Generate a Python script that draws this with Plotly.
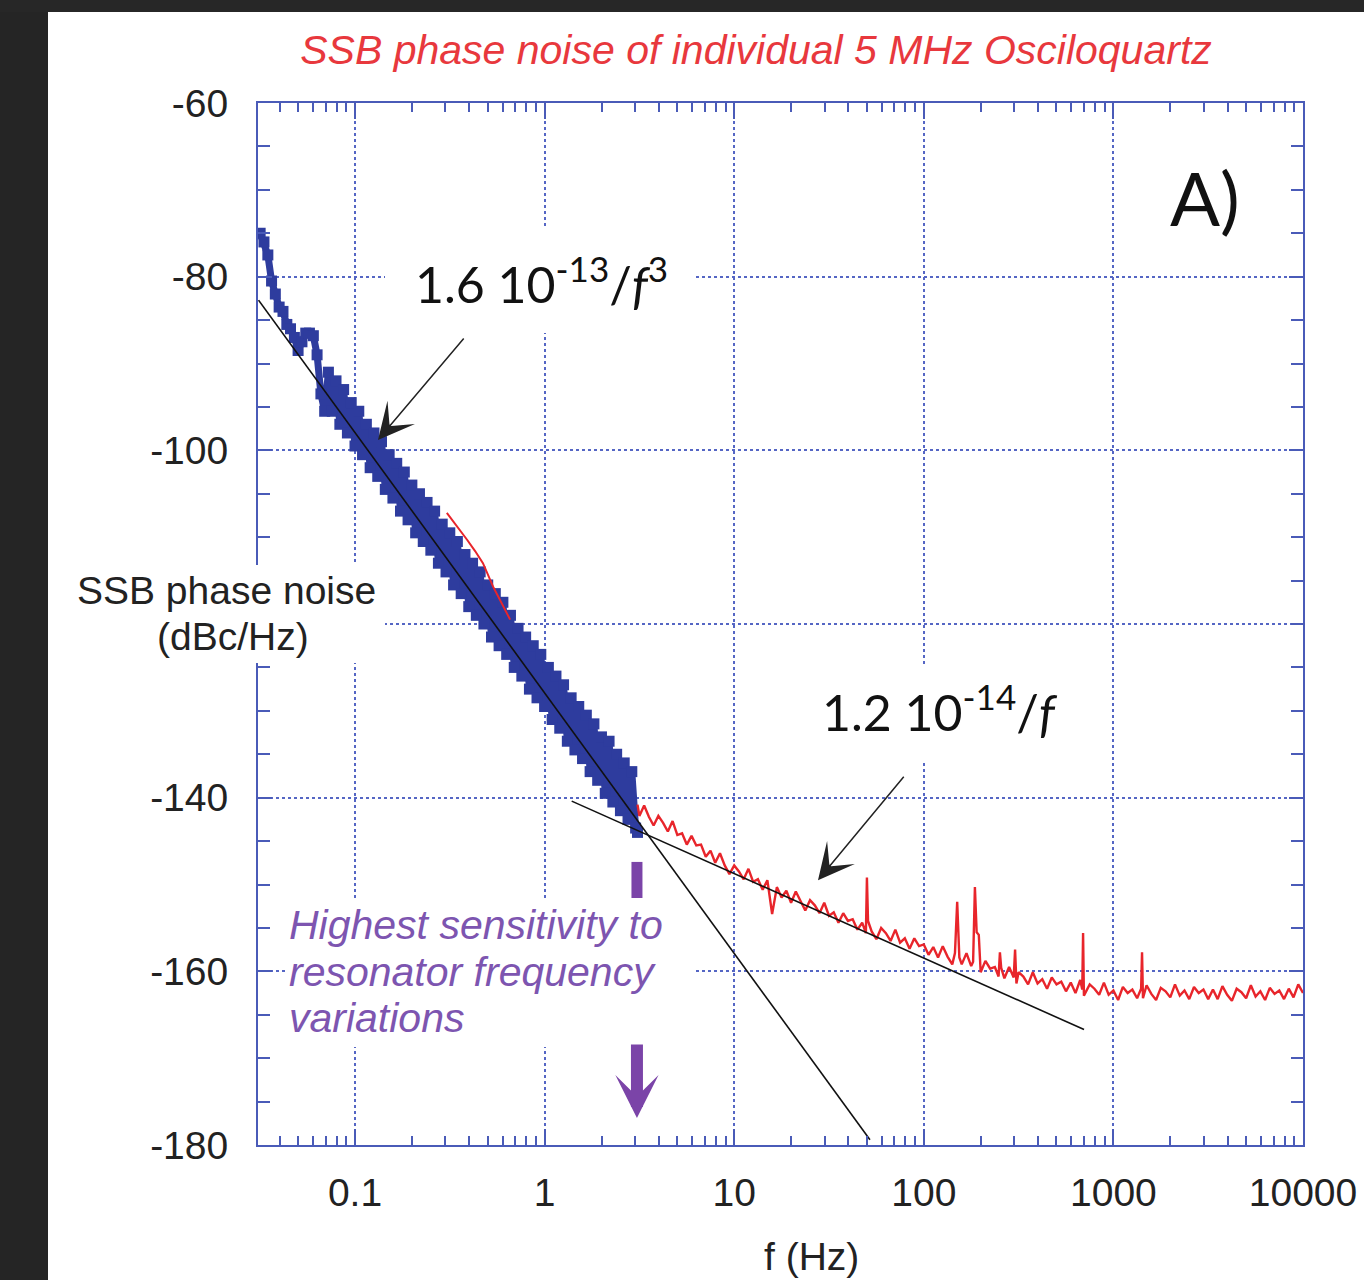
import plotly.graph_objects as go

# ---------------- data ----------------
blue_f = [0.0316, 0.0331, 0.0347, 0.0363, 0.0380, 0.0398, 0.0417, 0.0437, 0.0457, 0.0479,
          0.0501, 0.0525, 0.0550, 0.0575, 0.0603, 0.0631, 0.0661, 0.0692, 0.0724, 0.0759,
          0.0794, 0.0832, 0.0871, 0.0912, 0.0955, 0.1000, 0.1047, 0.1096, 0.1148, 0.1202,
          0.1259, 0.1318, 0.1380, 0.1445, 0.1514, 0.1585, 0.1660, 0.1738, 0.1820, 0.1905,
          0.1995, 0.2089, 0.2188, 0.2291, 0.2399, 0.2512, 0.2630, 0.2754, 0.2884, 0.3020,
          0.3162, 0.3311, 0.3467, 0.3631, 0.3802, 0.3981, 0.4169, 0.4365, 0.4571, 0.4786,
          0.5012, 0.5248, 0.5495, 0.5754, 0.6026, 0.6310, 0.6607, 0.6918, 0.7244, 0.7586,
          0.7943, 0.8318, 0.8710, 0.9120, 0.9550, 1.000, 1.047, 1.096, 1.148, 1.202,
          1.259, 1.318, 1.380, 1.445, 1.514, 1.585, 1.660, 1.738, 1.820, 1.905,
          1.995, 2.089, 2.188, 2.291, 2.399, 2.512, 2.630, 2.754, 2.884, 3.020, 3.090]
blue_db = [-75.0, -76.0, -77.5, -80.5, -82.0, -83.5, -84.0, -85.5, -86.0, -87.0,
           -88.5, -87.5, -86.5, -86.5, -86.8, -89.0, -93.5, -95.5, -91.0, -95.5,
           -92.0, -97.0, -93.0, -98.0, -94.5, -99.5, -95.5, -100.5, -97.0, -102.0,
           -98.0, -103.0, -99.0, -104.5, -100.5, -105.5, -101.5, -107.0, -102.5, -108.0,
           -104.0, -109.5, -105.0, -110.5, -106.0, -111.5, -107.0, -113.0, -108.5, -114.0,
           -109.5, -115.5, -110.5, -116.5, -112.0, -118.0, -113.0, -119.0, -114.0, -120.0,
           -115.5, -121.5, -116.5, -122.5, -117.5, -123.5, -119.0, -125.0, -120.5, -126.0,
           -121.5, -127.5, -122.5, -128.5, -123.5, -129.5, -125.0, -131.0, -126.0, -132.0,
           -127.0, -133.5, -128.5, -134.5, -129.5, -135.5, -130.5, -137.0, -131.5, -138.0,
           -133.0, -139.5, -133.5, -140.5, -135.0, -141.5, -136.0, -142.5, -137.0, -143.5, -144.0]

red_low_f = [0.305, 0.35, 0.39, 0.43, 0.473, 0.535, 0.60, 0.658]
red_low_db = [-107.2, -108.9, -110.3, -111.6, -113.0, -115.7, -117.8, -119.5]

red_f = [3.09, 3.162, 3.350, 3.548, 3.758, 3.981, 4.217, 4.467, 4.732, 5.012,
         5.309, 5.623, 5.957, 6.310, 6.683, 7.079, 7.499, 7.943, 8.414, 8.913, 9.441,
         10.0, 10.59, 11.22, 11.89, 12.59, 13.34, 14.13, 14.96, 15.85, 16.79, 17.78, 18.84, 19.95,
         21.13, 22.39, 23.71, 25.12, 26.61, 28.18, 29.85, 31.62, 33.50, 35.48, 37.58, 39.81,
         42.17, 44.67, 47.32, 49.5, 50.12, 50.8, 53.09, 56.23, 59.57, 63.10, 66.83, 70.79, 74.99,
         79.43, 84.14, 89.13, 94.41,
         100.0, 105.9, 112.2, 118.9, 125.9, 133.4, 141.3, 146.0, 150.0, 154.0, 158.5, 167.9, 177.8,
         182.0, 186.0, 190.0, 195.0, 199.5, 211.3, 223.9, 237.1, 248.0, 252.0, 256.0, 266.1, 281.8,
         298.0, 303.0, 308.0, 316.2, 335.0, 354.8, 375.8, 398.1, 421.7, 446.7, 473.2, 501.2, 530.9,
         562.3, 595.7, 631.0, 668.3, 685.0, 692.0, 699.0, 749.9, 794.3, 841.4, 891.3, 944.1,
         1000, 1059, 1122, 1189, 1259, 1334, 1400, 1416, 1432, 1496, 1585, 1679, 1778, 1884, 1995,
         2113, 2239, 2371, 2512, 2661, 2818, 2985, 3162, 3350, 3548, 3758, 3981, 4217, 4467, 4732,
         5012, 5309, 5623, 5957, 6310, 6683, 7079, 7499, 7943, 8414, 8913, 9441, 10000]
red_db = [-140.8, -142.1, -140.9, -142.2, -143.2, -142.1, -142.9, -143.9, -142.7, -144.3,
          -144.1, -145.4, -144.4, -145.5, -145.4, -146.8, -146.1, -147.5, -146.4, -147.8, -148.8,
          -147.8, -148.5, -149.4, -148.2, -149.7, -149.4, -150.6, -149.5, -153.4, -150.3, -151.5, -150.7, -152.1,
          -150.8, -152.0, -153.0, -151.8, -152.4, -153.3, -152.1, -153.6, -153.2, -154.4, -153.3, -154.2,
          -154.0, -155.2, -154.4, -155.6, -149.2, -154.2, -155.4, -156.3, -155.0, -155.6, -156.5, -155.2, -156.7,
          -156.2, -157.4, -156.2, -157.1,
          -156.9, -158.1, -157.2, -158.4, -157.1, -158.3, -159.2, -157.9, -152.0, -158.4, -159.2, -157.9, -159.4,
          -158.9, -150.3, -155.5, -155.8, -160.1, -158.8, -159.7, -159.5, -160.6, -157.8, -159.6, -160.8, -159.5,
          -160.7, -157.5, -161.4, -160.1, -160.6, -161.5, -160.1, -161.4, -160.9, -162.0, -160.7, -161.5, -161.2,
          -162.3, -161.3, -162.5, -161.0, -162.1, -155.6, -162.8, -161.5, -162.0, -162.7, -161.3, -162.7,
          -162.2, -163.3, -161.8, -162.5, -162.1, -163.1, -162.0, -157.8, -163.1, -161.6, -162.6, -163.3, -161.9, -162.3, -163.0,
          -161.5, -162.8, -162.2, -163.2, -161.8, -162.5, -162.1, -163.2, -162.1, -163.2, -161.7, -162.7, -163.4, -162.0, -162.4,
          -163.1, -161.6, -162.9, -162.3, -163.3, -161.9, -162.6, -162.2, -163.2, -162.0, -163.0, -161.5, -162.5]

fit3_f = [0.031, 52.0]       # 1.6e-13 / f^3 asymptote
fit3_db = [-82.7, -179.4]
fit1_f = [1.39, 700.0]       # 1.2e-14 / f asymptote
fit1_db = [-140.4, -166.7]

mark_f = [3.07, 3.07]        # purple "highest sensitivity" marker
mark_db = [-147.4, -151.9]

x_ticks = [0.1, 1, 10, 100, 1000, 10000]
x_ticklabels = ["0.1", "1", "10", "100", "1000", "10000"]
y_ticks = [-180, -160, -140, -120, -100, -80, -60]
y_ticklabels = ["-180", "-160", "-140", "", "-100", "-80", "-60"]

assert len(blue_f) == len(blue_db)
assert len(red_f) == len(red_db)

# ---------------- styling ----------------
AXC = "#4a5bb8"
GRIDC = "#5566c4"
BLUE = "#2e3c9e"
RED = "#e8252b"
PURPLE = "#7b44a8"
PURPLE_TXT = "#7d55b0"
TXT = "#222222"
SANS = "Liberation Sans, Arial, sans-serif"
CAL = "Lato, Open Sans, sans-serif"

x_minor = [m * 10 ** e for e in range(-2, 4) for m in range(2, 10)]
y_minor = list(range(-180, -55, 5))

fig = go.Figure()
fig.add_trace(go.Scatter(x=blue_f, y=blue_db, mode="lines+markers",
                         line=dict(color=BLUE, width=7),
                         marker=dict(symbol="square", size=11, color=BLUE),
                         showlegend=False))
fig.add_trace(go.Scatter(x=red_low_f, y=red_low_db, mode="lines",
                         line=dict(color=RED, width=2), showlegend=False))
fig.add_trace(go.Scatter(x=red_f, y=red_db, mode="lines",
                         line=dict(color=RED, width=2.4), showlegend=False))
fig.add_trace(go.Scatter(x=fit3_f, y=fit3_db, mode="lines",
                         line=dict(color="#111111", width=1.6), showlegend=False))
fig.add_trace(go.Scatter(x=fit1_f, y=fit1_db, mode="lines",
                         line=dict(color="#111111", width=1.6), showlegend=False))
fig.add_trace(go.Scatter(x=mark_f, y=mark_db, mode="lines",
                         line=dict(color=PURPLE, width=11), showlegend=False))

W, H = 1364, 1280
L, R, T, B = 258, 61, 103, 135
PW, PH = W - L - R, H - T - B


def px(xp):
    return (xp - L) / PW


def py(yp):
    return (H - B - yp) / PH


fig.update_layout(
    width=W, height=H, autosize=False,
    margin=dict(l=L, r=R, t=T, b=B, pad=0, autoexpand=False),
    paper_bgcolor="white", plot_bgcolor="white",
    title=dict(text="<i>SSB phase noise of individual 5 MHz Osciloquartz</i>",
               font=dict(family=SANS, size=41, color="#e8383d"),
               x=756 / W, xanchor="center", xref="container",
               y=1 - 50 / H, yanchor="middle", yref="container"),
    showlegend=False,
)

fig.update_xaxes(type="log", range=[-1.5116, 4.0], automargin=False,
                 tickmode="array", tickvals=x_ticks, ticktext=x_ticklabels,
                 ticks="inside", ticklen=16, tickwidth=1.5, tickcolor=AXC,
                 showline=True, linecolor=AXC, linewidth=2, mirror="allticks",
                 showgrid=True, gridcolor=GRIDC, gridwidth=1.5, griddash="dot",
                 zeroline=False,
                 tickfont=dict(family=SANS, size=39, color=TXT),
                 ticklabelstandoff=12,
                 minor=dict(tickmode="array", tickvals=x_minor, ticks="inside",
                            ticklen=9, tickwidth=1.5, tickcolor=AXC, showgrid=False))
fig.update_yaxes(range=[-180, -60], automargin=False,
                 tickmode="array", tickvals=y_ticks, ticktext=y_ticklabels,
                 ticks="inside", ticklen=14, tickwidth=1.5, tickcolor=AXC,
                 showline=True, linecolor=AXC, linewidth=2, mirror="allticks",
                 showgrid=True, gridcolor=GRIDC, gridwidth=1.5, griddash="dot",
                 zeroline=False,
                 tickfont=dict(family=SANS, size=39, color=TXT),
                 ticklabelstandoff=20,
                 minor=dict(tickmode="array", tickvals=y_minor, ticks="inside",
                            ticklen=12, tickwidth=1.5, tickcolor=AXC, showgrid=False))

# dark surround and white label backgrounds
shapes = [
    dict(type="rect", xref="paper", yref="paper", x0=px(-20), x1=px(48), y0=py(1300), y1=py(-20),
         fillcolor="#252525", line=dict(width=0)),
    dict(type="rect", xref="paper", yref="paper", x0=px(-20), x1=px(1390), y0=py(12), y1=py(-20),
         fillcolor="#272727", line=dict(width=0)),
    dict(type="rect", xref="paper", yref="paper", x0=px(66), x1=px(385), y0=py(663), y1=py(565),
         fillcolor="white", line=dict(width=0)),
    dict(type="rect", xref="paper", yref="paper", x0=px(385), x1=px(695), y0=py(333), y1=py(228),
         fillcolor="white", line=dict(width=0)),
    dict(type="rect", xref="paper", yref="paper", x0=px(805), x1=px(1065), y0=py(762), y1=py(665),
         fillcolor="white", line=dict(width=0)),
    dict(type="rect", xref="paper", yref="paper", x0=px(285), x1=px(693), y0=py(1047), y1=py(898),
         fillcolor="white", line=dict(width=0)),
]
fig.update_layout(shapes=shapes)


def label(text, xp, yp, size, color=TXT, family=SANS, xanchor="center"):
    return dict(text=text, xref="paper", yref="paper", x=px(xp), y=py(yp),
                xanchor=xanchor, yanchor="middle", showarrow=False,
                font=dict(family=family, size=size, color=color))


ann = [
    label("SSB phase noise", 226, 590, 39),
    label("(dBc/Hz)", 233, 636, 39),
    label("f (Hz)", 811, 1256, 39),
    label("1.6 10<sup>-13</sup>/<i>f</i><sup>3</sup>", 413, 280, 50, "#111111", CAL, "left"),
    label("1.2 10<sup>-14</sup>/<i>f</i>", 820, 708, 50, "#111111", CAL, "left"),
    label("A)", 1205, 198, 74, "#111111", CAL),
]
for txt, yp in [("Highest sensitivity to", 925), ("resonator frequency", 972), ("variations", 1018)]:
    ann.append(label("<i>" + txt + "</i>", 287, yp, 41, PURPLE_TXT, SANS, "left"))

# arrows (annotation x on a log axis is log10 of the frequency)
ann.append(dict(text="", x=-0.8787, y=-98.8, xref="x", yref="y", ax=87, ay=-103,
                showarrow=True, arrowhead=3, arrowsize=4.0, arrowwidth=1.5, arrowcolor="#222222"))
ann.append(dict(text="", x=1.442, y=-149.5, xref="x", yref="y", ax=87, ay=-105,
                showarrow=True, arrowhead=3, arrowsize=4.0, arrowwidth=1.5, arrowcolor="#222222"))
ann.append(dict(text="", x=0.4871, y=-176.9, xref="x", yref="y", ax=0, ay=-75,
                showarrow=True, arrowhead=3, arrowsize=0.6, arrowwidth=12, arrowcolor=PURPLE))
fig.update_layout(annotations=ann)

fig.write_html("out.html")
